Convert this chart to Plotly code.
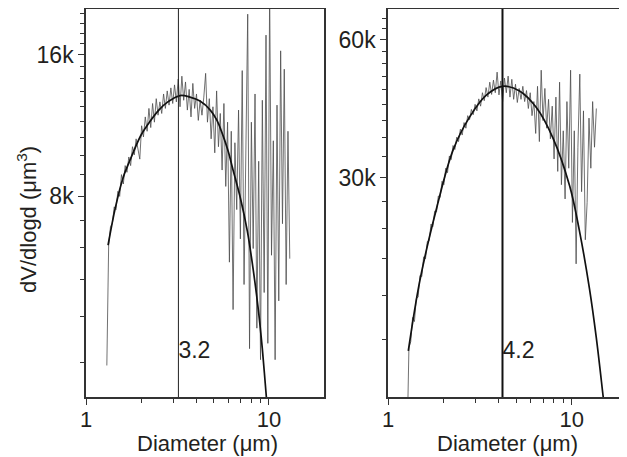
# Particle volume size distributions, two panels, log-log

import plotly.graph_objects as go

# Diameter grid (um) shared by both measured curves
diam = [1.271, 1.300, 1.330, 1.361, 1.393, 1.426, 1.459, 1.493, 1.528, 1.563,
        1.600, 1.637, 1.675, 1.714, 1.754, 1.795, 1.837, 1.879, 1.923, 1.968,
        2.014, 2.061, 2.109, 2.158, 2.208, 2.259, 2.312, 2.366, 2.421, 2.477,
        2.535, 2.594, 2.655, 2.716, 2.780, 2.844, 2.911, 2.979, 3.048, 3.119,
        3.192, 3.266, 3.342, 3.420, 3.499, 3.581, 3.664, 3.750, 3.837, 3.926,
        4.018, 4.111, 4.207, 4.305, 4.406, 4.508, 4.613, 4.721, 4.831, 4.943,
        5.058, 5.176, 5.297, 5.420, 5.546, 5.675, 5.808, 5.943, 6.081, 6.223,
        6.368, 6.516, 6.668, 6.823, 6.982, 7.145, 7.311, 7.482, 7.656, 7.834,
        8.017, 8.204, 8.395, 8.590, 8.790, 8.995, 9.204, 9.419, 9.638, 9.863,
        10.09, 10.33, 10.57, 10.81, 11.07, 11.32, 11.59, 11.86, 12.13, 12.42,
        12.71, 13.00, 13.31, 13.62]

# Measured dV/dlogd, left sample (k um^3)
meas_left = [None, 3.5, 6.3, 6.9, 7.0, 7.6, 7.5, 8.2, 8.0, 8.9,
             8.5, 9.3, 9.0, 9.7, 9.3, 10.2, 9.8, 10.6, 10.1, 9.6,
             11.3, 10.7, 11.8, 11.0, 12.3, 11.2, 12.6, 11.5, 12.9, 11.9,
             12.7, 12.0, 13.2, 12.3, 13.4, 12.5, 13.6, 12.6, 13.8, 12.7,
             14.2, 12.4, 14.4, 12.8, 14.0, 12.2, 13.5, 11.8, 13.9, 12.3,
             13.2, 11.6, 12.8, 11.9, 13.0, 14.6, 11.5, 12.9, 10.6, 12.4,
             9.9, 13.4, 10.2, 12.0, 9.1, 12.6, 8.4, 11.5, 5.8, 11.0,
             4.6, 10.4, 7.5, 12.2, 6.5, 14.8, 5.2, 10.5, 19.5, 3.8,
             11.5, 6.2, 13.2, 4.2, 9.5, 3.6, 12.8, 5.0, 17.6, 3.9,
             22.0, 6.0, 10.5, 3.6, 12.5, 4.8, 16.3, 7.0, 14.9, 5.2,
             11.0, 5.9, None, None]

# Measured dV/dlogd, right sample (k um^3)
meas_right = [8.0, 12.8, 13.2, 14.9, 14.6, 16.4, 16.5, 18.4, 18.3, 20.2,
              20.0, 21.8, 21.9, 23.8, 23.5, 25.4, 25.3, 27.4, 27.2, 29.5,
              29.0, 31.5, 30.8, 33.5, 32.9, 35.3, 34.6, 36.8, 36.0, 38.3,
              37.2, 39.6, 38.5, 41.0, 40.2, 42.3, 41.2, 43.4, 42.0, 44.6,
              43.0, 46.0, 44.2, 47.2, 45.0, 48.5, 45.6, 49.0, 46.0, 51.0,
              45.5, 48.8, 44.0, 49.5, 46.0, 50.0, 45.0, 49.2, 44.5, 48.0,
              43.8, 47.0, 44.5, 47.5, 44.0, 46.5, 42.5, 46.0, 41.0, 44.0,
              37.5, 47.5, 36.0, 51.5, 40.0, 47.0, 38.5, 44.5, 36.5, 43.0,
              33.0, 45.0, 31.0, 48.5, 29.0, 38.0, 27.0, 44.0, 31.5, 51.5,
              24.0, 38.0, 19.5, 35.0, 50.5, 28.0, 42.0, 22.0, 26.5, 40.5,
              31.5, 44.0, 35.0, 42.5]

# Lognormal fits (k um^3)
fit_d_left = [1.32, 1.45, 1.6, 1.75, 2.0, 2.24, 2.5, 2.8, 3.27, 3.7, 4.2, 4.78,
              5.2, 5.55, 6.0, 6.32, 7.0, 7.62, 8.2, 8.75, 9.2, 9.55, 9.9]
fit_left = [6.3, 7.6, 8.8, 9.6, 10.8, 11.55, 12.2, 12.7, 13.1, 13.0, 12.75, 12.2,
            11.6, 10.9, 9.95, 9.2, 7.9, 6.75, 5.6, 4.6, 3.8, 3.2, 2.7]
fit_d_right = [1.29, 1.49, 1.84, 2.26, 2.79, 3.44, 4.2, 5.2, 6.42, 7.92, 9.75,
               11.0, 12.5, 13.6, 14.8, 15.2]
fit_right = [12.6, 17.9, 25.8, 34.5, 40.8, 45.5, 47.5, 46.4, 42.7, 36.6, 28.8,
             23.1, 17.2, 13.5, 10.1, 9.2]

# Modal diameters
mode_left = 3.2
mode_right = 4.2

# Axis ticks
ytick_left = [8000, 16000]
ytext_left = ["8k", "16k"]
yminor_left = [3556, 4444, 5333, 6222, 7111, 8889, 9778, 10667, 11556, 12444,
               13333, 14222, 15111, 16889, 17778, 18667, 19556]
ytick_right = [30000, 60000]
ytext_right = ["30k", "60k"]
yminor_right = [13333, 16667, 20000, 23333, 26667, 33333, 36667, 40000, 43333,
                46667, 50000, 53333, 56667, 63333, 66667]
xtick = [1, 10]
xminor = [2, 3, 4, 5, 6, 7, 8, 9]

FONT = "Liberation Sans, Arial, sans-serif"
INK = "#231f20"
W, H = 619, 449  # page adds an 8px body margin


def k(vals):
    return [None if v is None else v * 1000 for v in vals]


fig = go.Figure()

# left panel
fig.add_trace(go.Scatter(x=diam, y=k(meas_left), mode="lines",
                         line=dict(color="#4d4d4d", width=0.8),
                         xaxis="x", yaxis="y", connectgaps=False))
fig.add_trace(go.Scatter(x=fit_d_left, y=k(fit_left), mode="lines",
                         line=dict(color="#111111", width=1.7, shape="spline"),
                         xaxis="x", yaxis="y"))
fig.add_trace(go.Scatter(x=[mode_left, mode_left], y=[1000, 100000], mode="lines",
                         line=dict(color="#222222", width=1), xaxis="x", yaxis="y"))
fig.add_trace(go.Scatter(x=[mode_left], y=[3740], mode="text", text=["3.2"],
                         textposition="middle right",
                         textfont=dict(size=23, color=INK, family=FONT),
                         xaxis="x", yaxis="y"))

# right panel
fig.add_trace(go.Scatter(x=diam, y=k(meas_right), mode="lines",
                         line=dict(color="#4d4d4d", width=0.8),
                         xaxis="x2", yaxis="y2"))
fig.add_trace(go.Scatter(x=fit_d_right, y=k(fit_right), mode="lines",
                         line=dict(color="#111111", width=1.7, shape="spline"),
                         xaxis="x2", yaxis="y2"))
fig.add_trace(go.Scatter(x=[mode_right, mode_right], y=[1000, 1000000], mode="lines",
                         line=dict(color="#111111", width=2), xaxis="x2", yaxis="y2"))
fig.add_trace(go.Scatter(x=[mode_right], y=[12500], mode="text", text=["4.2"],
                         textposition="middle right",
                         textfont=dict(size=23, color=INK, family=FONT),
                         xaxis="x2", yaxis="y2"))

axis_common = dict(type="log", showgrid=False, zeroline=False, showline=True,
                   linecolor="#333333", linewidth=1.5, mirror=True,
                   ticks="outside", ticklen=6, tickwidth=1.3, tickcolor="#333333",
                   tickfont=dict(size=23, color=INK, family=FONT),
                   tickmode="array", automargin=False)

xaxis_common = dict(axis_common, range=[0, 1.30103], tickvals=xtick,
                    ticktext=["1", "10"], ticklabelstandoff=-4,
                    tickfont=dict(size=22, color=INK, family=FONT),
                    minor=dict(tickmode="array", tickvals=xminor, ticks="outside",
                               ticklen=4, tickwidth=1, tickcolor="#333333"))

ydom = [60 / H, 448 / H]

fig.update_layout(
    width=W, height=H,
    margin=dict(l=0, r=0, t=0, b=0),
    paper_bgcolor="white", plot_bgcolor="white",
    showlegend=False,
    xaxis=dict(xaxis_common, domain=[78 / W, 316 / W], anchor="y"),
    yaxis=dict(axis_common, domain=ydom, anchor="x",
               range=[3.47712, 4.30103], tickvals=ytick_left, ticktext=ytext_left,
               minor=dict(tickmode="array", tickvals=yminor_left, ticks="outside",
                          ticklen=4, tickwidth=1, tickcolor="#333333")),
    xaxis2=dict(xaxis_common, domain=[380 / W, 1.0], anchor="y2"),
    yaxis2=dict(axis_common, domain=ydom, anchor="x2",
                range=[4.0, 4.84510], tickvals=ytick_right, ticktext=ytext_right,
                minor=dict(tickmode="array", tickvals=yminor_right, ticks="outside",
                           ticklen=4, tickwidth=1, tickcolor="#333333")),
    annotations=[
        dict(text="Diameter (\u03bcm)", x=199 / W, y=1 - 435 / H, xref="paper",
             yref="paper", xanchor="center", yanchor="middle", showarrow=False,
             font=dict(size=22, color=INK, family=FONT)),
        dict(text="Diameter (\u03bcm)", x=500 / W, y=1 - 435 / H, xref="paper",
             yref="paper", xanchor="center", yanchor="middle", showarrow=False,
             font=dict(size=22, color=INK, family=FONT)),
        dict(text="dV/dlogd (\u03bcm<sup>3</sup>)", x=19 / W, y=1 - 212 / H,
             xref="paper", yref="paper", xanchor="center", yanchor="middle",
             showarrow=False, textangle=-90,
             font=dict(size=22, color=INK, family=FONT)),
    ],
)

fig.write_html("out.html")
